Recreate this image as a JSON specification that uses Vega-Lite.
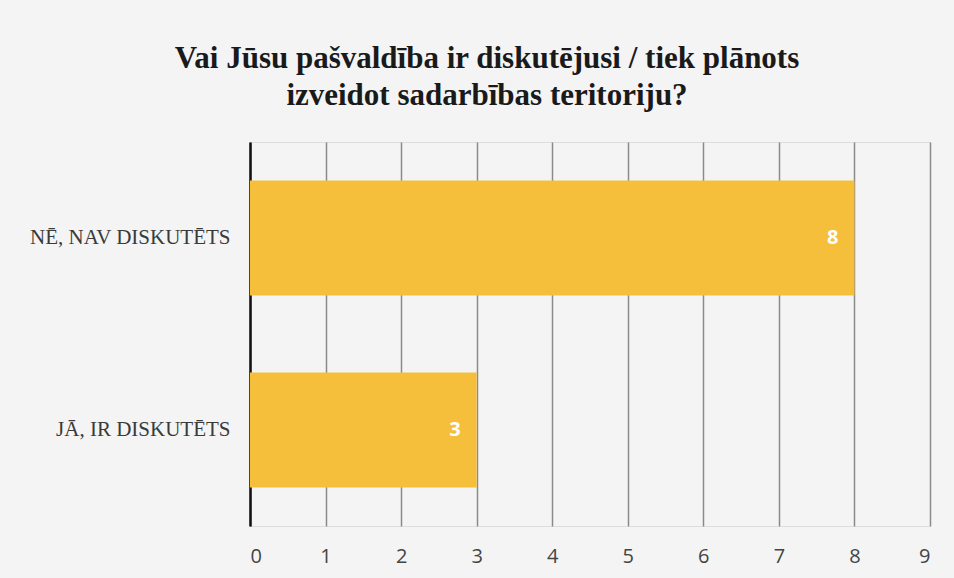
{
  "$schema": "https://vega.github.io/schema/vega-lite/v6.json",
  "autosize": "none",
  "width": 680,
  "height": 384,
  "padding": {"left": 250, "top": 142, "right": 24, "bottom": 52},
  "background": "#f4f4f4",
  "title": {
    "text": ["Vai Jūsu pašvaldība ir diskutējusi / tiek plānots", "izveidot sadarbības teritoriju?"],
    "font": "Liberation Serif",
    "fontSize": 31,
    "fontWeight": "bold",
    "color": "#1a1a1a",
    "anchor": "middle",
    "frame": "group",
    "dx": -103,
    "offset": 30,
    "lineHeight": 37
  },
  "data": {
    "values": [
      {"answer": "NĒ, NAV DISKUTĒTS", "count": 8},
      {"answer": "JĀ, IR DISKUTĒTS", "count": 3}
    ]
  },
  "encoding": {
    "y": {
      "field": "answer",
      "type": "nominal",
      "sort": null,
      "title": null,
      "scale": {"paddingInner": 0.4, "paddingOuter": 0.2},
      "axis": {
        "labelFont": "Liberation Serif",
        "labelFontSize": 21,
        "labelColor": "#3a3a3a",
        "labelPadding": 20,
        "labelLimit": 300,
        "ticks": false,
        "domainColor": "#111111",
        "domainWidth": 2.5,
        "grid": false
      }
    },
    "x": {
      "field": "count",
      "type": "quantitative",
      "title": null,
      "scale": {"domain": [0, 9]},
      "axis": {
        "values": [0, 1, 2, 3, 4, 5, 6, 7, 8, 9],
        "labelFont": "Open Sans",
        "labelFontSize": 20,
        "labelColor": "#444444",
        "labelPadding": 20,
        "ticks": false,
        "domain": false,
        "grid": true,
        "gridColor": "#8a8a8a",
        "gridWidth": 1.5
      }
    }
  },
  "layer": [
    {
      "mark": {"type": "bar", "color": "#F5BF3C"}
    },
    {
      "mark": {
        "type": "text",
        "align": "right",
        "dx": -16,
        "color": "white",
        "font": "Open Sans",
        "fontWeight": "bold",
        "fontSize": 20
      },
      "encoding": {"text": {"field": "count", "type": "quantitative"}}
    }
  ]
}
